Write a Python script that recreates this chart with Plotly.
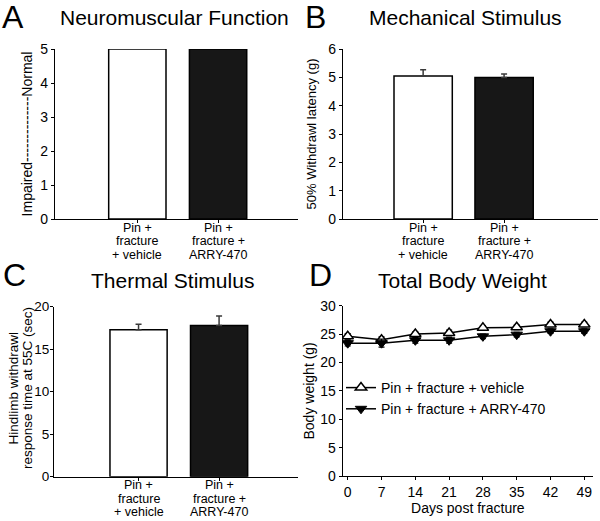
import plotly.graph_objects as go

W, H = 600, 521

# ---------------- data ----------------
groups = ["Pin + fracture + vehicle", "Pin + fracture + ARRY-470"]
group_label_lines = [["Pin +", "fracture", "+ vehicle"], ["Pin +", "fracture +", "ARRY-470"]]

neuro_values = [5, 5]

mech_values = [5.05, 4.99]
mech_err = [0.22, 0.13]

thermal_values = [17.3, 17.8]
thermal_err = [0.65, 1.1]

days = [0, 7, 14, 21, 28, 35, 42, 49]
weight_vehicle = [24.6, 24.0, 25.0, 25.2, 26.1, 26.2, 26.7, 26.7]
weight_vehicle_err = [0.5, 0.5, 0.4, 0.5, 0.4, 0.4, 0.4, 0.4]
weight_arry = [23.4, 23.4, 23.9, 23.9, 24.6, 24.9, 25.5, 25.5]
weight_arry_err = [0.5, 0.7, 0.5, 0.5, 0.4, 0.4, 0.4, 0.4]

bar_colors = ["white", "#171717"]
FONT = "Arial, Liberation Sans, sans-serif"


def px_x(p):
    return p / W


def px_y(p):
    return 1 - p / H


fig = go.Figure()

# panel geometry in pixels: (left, right, top, bottom)
panels = {
    1: (55, 298, 49, 219),
    2: (343, 598, 49, 219),
    3: (54, 298, 306.7, 476.7),
    4: (342.7, 593, 305.7, 476),
}

x_ranges = {1: [-1.02, 1.99], 2: [-0.99, 2.16], 3: [-1.05, 1.98], 4: [-1.04, 50.8]}
y_ranges = {1: [0, 5], 2: [0, 6], 3: [0, 20], 4: [0, 30]}
y_dticks = {1: 1, 2: 1, 3: 5, 4: 5}
bar_widths = {1: 0.71, 2: 0.72, 3: 0.71}

xpos = [0, 1]

# bar panels
bar_data = {
    1: (neuro_values, None),
    2: (mech_values, mech_err),
    3: (thermal_values, thermal_err),
}
for k, (vals, errs) in bar_data.items():
    ax = "" if k == 1 else str(k)
    for i in range(2):
        tr = go.Bar(
            x=[xpos[i]], y=[vals[i]], width=bar_widths[k],
            marker=dict(color=bar_colors[i], line=dict(color="black", width=1.5)),
            xaxis="x" + ax, yaxis="y" + ax, showlegend=False,
        )
        if errs is not None:
            tr.error_y = dict(type="data", symmetric=False, array=[errs[i]], arrayminus=[0],
                              color="#3a3a3a", thickness=1.5, width=3)
        fig.add_trace(tr)

# line panel D
fig.add_trace(go.Scatter(
    x=days, y=weight_vehicle, mode="lines+markers", name=groups[0],
    line=dict(color="black", width=1.5),
    marker=dict(symbol="triangle-up", size=10, color="white", line=dict(color="black", width=1.5)),
    error_y=dict(type="data", array=weight_vehicle_err, color="black", thickness=1.2, width=3),
    xaxis="x4", yaxis="y4",
))
fig.add_trace(go.Scatter(
    x=days, y=weight_arry, mode="lines+markers", name=groups[1],
    line=dict(color="black", width=1.5),
    marker=dict(symbol="triangle-down", size=10, color="black", line=dict(color="black", width=1)),
    error_y=dict(type="data", array=weight_arry_err, color="black", thickness=1.2, width=3),
    xaxis="x4", yaxis="y4",
))

y_titles = {
    1: "Impaired--------------Normal",
    2: "50% Withdrawl latency (g)",
    3: "",
    4: "Body weight (g)",
}
thermal_ytitle_lines = ["Hindlimb withdrawl", "response time at 55C (sec)"]
y_title_size = {1: 14, 2: 13, 3: 13, 4: 14}
y_tick_size = {1: 14, 2: 14, 3: 13.5, 4: 14}
y_standoff = {1: 4, 2: 8, 3: 1, 4: 2}

layout = dict(
    template="none",
    width=W, height=H, margin=dict(l=0, r=0, t=0, b=0, autoexpand=False),
    paper_bgcolor="white", plot_bgcolor="white",
    font=dict(family=FONT, color="black", size=14),
    barmode="overlay",
    showlegend=True,
    legend=dict(x=px_x(341), y=px_y(372), xanchor="left", yanchor="top",
                bgcolor="rgba(0,0,0,0)", font=dict(size=14, family=FONT),
                tracegroupgap=0, itemwidth=30),
)

for k, (l, r, t, b) in panels.items():
    ax = "" if k == 1 else str(k)
    xa = dict(
        domain=[px_x(l), px_x(r)], range=x_ranges[k], anchor="y" + ax, automargin=False,
        showline=True, linecolor="black", linewidth=1.2, showgrid=False, zeroline=False,
        ticks="outside", ticklen=3, tickcolor="black", tickwidth=1.2,
    )
    if k == 4:
        xa.update(tickvals=days, tickfont=dict(size=14),
                  title=dict(text="Days post fracture", font=dict(size=14), standoff=0))
    else:
        xa.update(tickvals=xpos, showticklabels=False)
    ya = dict(
        domain=[px_y(b), px_y(t)], range=y_ranges[k], anchor="x" + ax, dtick=y_dticks[k],
        automargin=False,
        showline=True, linecolor="black", linewidth=1.2, showgrid=False, zeroline=False,
        ticks="outside", ticklen=3, tickcolor="black", tickwidth=1.2,
        tickfont=dict(size=y_tick_size[k]),
    )
    if k == 3:
        ya["ticklabelstandoff"] = -2
    if y_titles[k]:
        ya["title"] = dict(text=y_titles[k], font=dict(size=y_title_size[k]), standoff=y_standoff[k])
    layout["xaxis" + ax] = xa
    layout["yaxis" + ax] = ya

fig.update_layout(**layout)

# two-line y title of panel C (lines set tighter than plotly's default line height)
for line, xp in zip(thermal_ytitle_lines, [12.5, 27]):
    fig.add_annotation(x=px_x(xp), y=px_y(388), xref="paper", yref="paper", text=line,
                       showarrow=False, textangle=-90, xanchor="center", yanchor="middle",
                       font=dict(size=13.5, family=FONT), borderpad=0)

# category labels below bar panels (one annotation per line, tight spacing)
for k in (1, 2, 3):
    ax = "" if k == 1 else str(k)
    for i in range(2):
        for j, line in enumerate(group_label_lines[i]):
            fig.add_annotation(
                x=xpos[i], xref="x" + ax, y=0, yref="y" + ax + " domain",
                text=line, showarrow=False, yanchor="middle", xanchor="center",
                yshift=-(8.5 + 13.5 * j), font=dict(size=12.5, family=FONT),
                borderpad=0,
            )

# panel letters and titles
letters = [("A", 13, 17), ("B", 315, 17), ("C", 14, 275), ("D", 320, 275)]
for txt, x, y in letters:
    fig.add_annotation(x=px_x(x), y=px_y(y), xref="paper", yref="paper", text=txt,
                       showarrow=False, xanchor="center", yanchor="middle",
                       font=dict(size=32, family=FONT))

titles = [("Neuromuscular Function", 174, 18), ("Mechanical Stimulus", 465, 18),
          ("Thermal Stimulus", 172, 280), ("Total Body Weight", 463, 280)]
for txt, x, y in titles:
    fig.add_annotation(x=px_x(x), y=px_y(y), xref="paper", yref="paper", text=txt,
                       showarrow=False, xanchor="center", yanchor="middle",
                       font=dict(size=21, family=FONT))

fig.write_html("out.html", config={"displayModeBar": False},
               post_script="document.body.style.margin='0';")
